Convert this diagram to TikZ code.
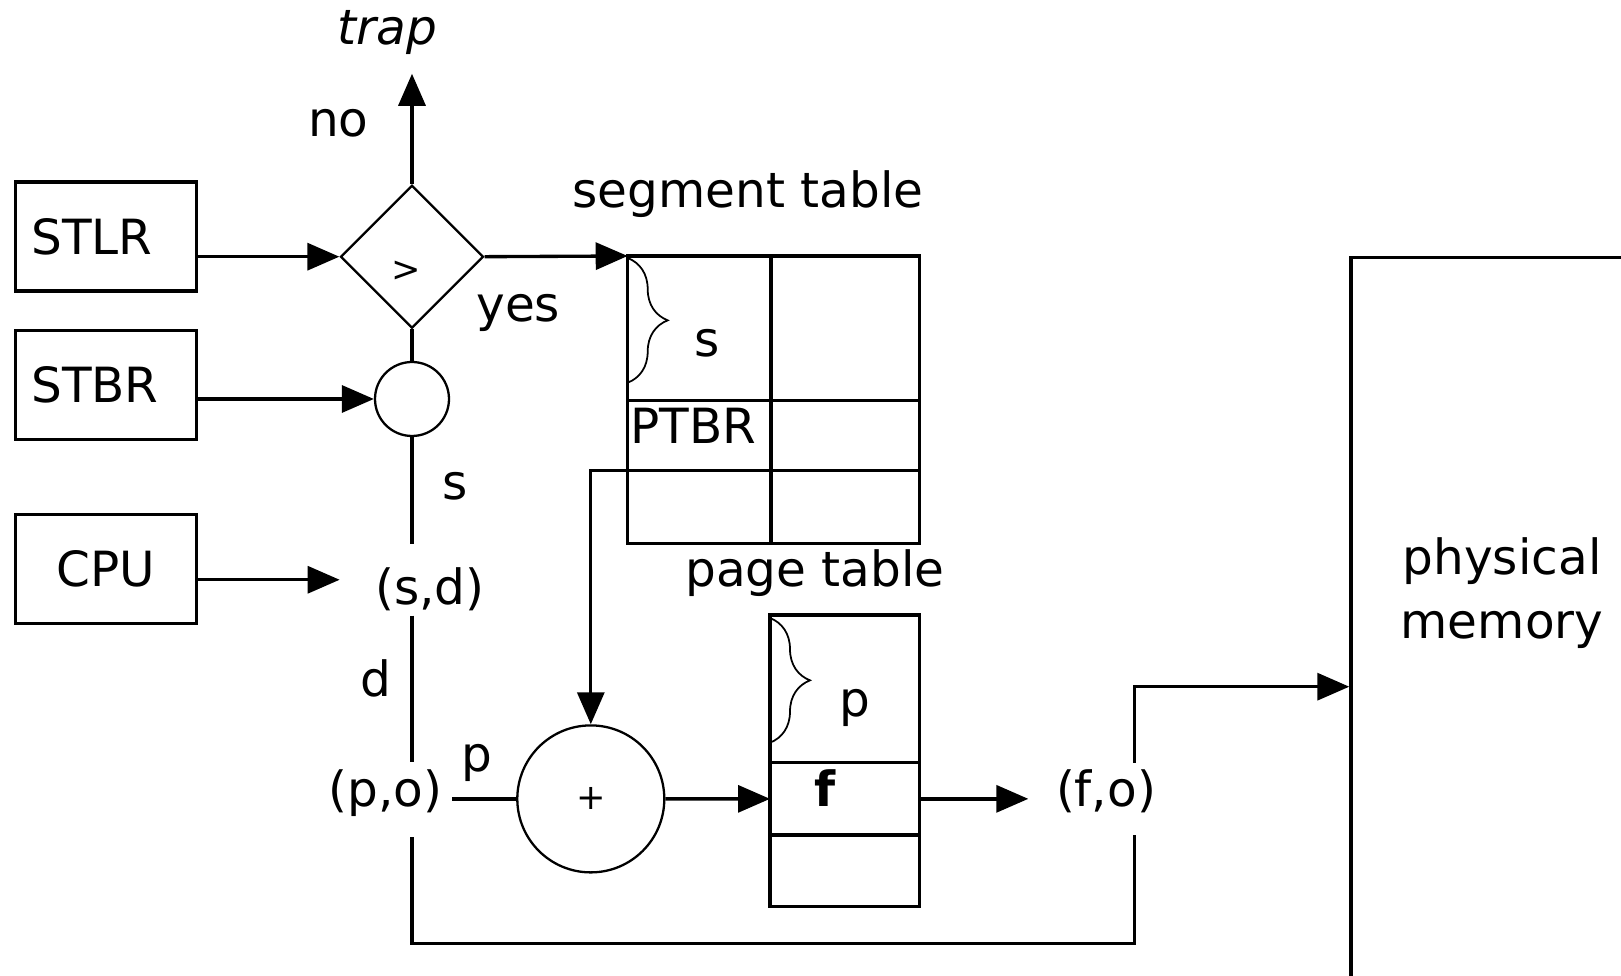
\documentclass[tikz,border=0pt]{standalone}
\usepackage{fontspec}
\setmainfont{DejaVu Sans}
\usetikzlibrary{arrows.meta,positioning,shapes.geometric,decorations.pathreplacing}

\begin{document}
\begin{tikzpicture}[x=0.1mm,y=-0.1mm,font=\fontsize{13.8}{18}\selectfont,
wire/.style={line width=0.95pt},arr/.style={wire,-{Triangle[length=3.2mm,width=2.7mm]}},
regbox/.style={draw,line width=0.95pt,minimum height=10.9mm,text width=15mm,inner xsep=1.55mm,align=left},
cell/.style={draw,line width=0.95pt,inner sep=0pt,outer sep=0pt},
lbl/.style={inner sep=0pt,anchor=base},
curly/.style={decorate,decoration={brace,amplitude=4mm},line width=0.5pt},
small/.style={font=\fontsize{10}{12}\selectfont}]
\useasboundingbox (0,0) rectangle (1621,976);
\clip (0,0) rectangle (1621,976);
% registers
\node[regbox] (stlr) at (106.2,236.5) {STLR};
\node[regbox,below=3.6mm of stlr] (stbr) {STBR};
\node[regbox,below=7.2mm of stbr,align=center] (cpu) {CPU};
% compare and adders
\node[draw,diamond,line width=0.65pt,minimum width=14.3mm,minimum height=14.3mm,inner sep=0pt] (cmp) at (412,256.7) {};
\node[small] (gt) at (406,271.7) {>};
\node[draw,circle,line width=0.65pt,minimum size=7.4mm,inner sep=0pt] (sadd) at (412,399) {};
\node[draw,circle,line width=0.65pt,minimum size=14.7mm,inner sep=0pt,small] (padd) at (590.8,798.9) {+};
% segment table
\node[cell,anchor=north west,minimum width=14.33mm,minimum height=14.47mm] (seg11) at (627.7,256) {};
\node[cell,right=0pt of seg11,minimum width=14.83mm,minimum height=14.47mm] (seg12) {};
\node[cell,below=0pt of seg11,minimum width=14.33mm,minimum height=7mm] (seg21) {};
\node[cell,right=0pt of seg21,minimum width=14.83mm,minimum height=7mm] (seg22) {};
\node[cell,below=0pt of seg21,minimum width=14.33mm,minimum height=7.26mm] (seg31) {};
\node[cell,right=0pt of seg31,minimum width=14.83mm,minimum height=7.26mm] (seg32) {};
\draw[curly] ([yshift=-0.2mm]seg11.north west) -- ([yshift=1.8mm]seg11.south west);
% page table
\node[cell,anchor=north west,minimum width=14.93mm,minimum height=14.77mm] (pg1) at (770,615) {};
\node[cell,below=0pt of pg1,minimum width=14.93mm,minimum height=7.23mm] (pg2) {};
\node[cell,below=0pt of pg2,minimum width=14.93mm,minimum height=7.17mm] (pg3) {};
\draw[curly] ([yshift=-0.3mm]pg1.north west) -- ([yshift=2mm]pg1.south west);
% memory
\node[draw,line width=0.95pt,anchor=north west,minimum width=40mm,minimum height=100mm,inner sep=0pt] (mem) at (1349.3,256) {};
\node[align=center] (memtxt) at (1502,593) {physical\\memory};
% labels
\node[lbl] (trap) at (387.5,45) {\textit{trap}};
\node[lbl] (no) at (338.3,136.7) {no};
\node[lbl] (yes) at (518.3,321.7) {yes};
\node[lbl] (slbl) at (455,500) {s};
\node[lbl] (sd) at (430,605) {(s,d)};
\node[lbl] (dlbl) at (376,696.7) {d};
\node[lbl] (po) at (385.6,806.7) {(p,o)};
\node[lbl] (plbl) at (476.7,771.7) {p};
\node[lbl] (segname) at (748,208) {segment table};
\node[lbl] (sent) at (706.7,356.7) {s};
\node[lbl,anchor=base west] (ptbr) at (630,444) {PTBR};
\node[lbl] (pgname) at (815,587) {page table};
\node[lbl] (pent) at (855,716.7) {p};
\node[lbl] (fent) at (825,806.7) {\textbf{f}};
\node[lbl] (fo) at (1106,807) {(f,o)};
\coordinate (sdin) at ([yshift=1mm]sd.west);
\coordinate (loop) at (1134.7,943.3);
\coordinate (memin) at (1349.3,686.7);
% connections
\draw[arr] (stlr.east |- cmp.west) -- (cmp.west);
\draw[arr] (stbr.east |- sadd.west) -- (sadd.west);
\draw[arr,shorten >=3.5mm] (cpu.east |- sdin) -- (sdin);
\draw[arr,shorten >=1.8mm] (cmp.north) -- (cmp.north |- trap.south);
\draw[arr] (cmp.east) -- (seg11.north west);
\draw[wire] (cmp.south) -- (sadd.north);
\draw[wire,shorten >=2.3mm] (sadd.south) -- (sadd |- sd.north);
\draw[wire,shorten <=0.35mm,shorten >=0.7mm] (sd.south -| sadd) -- (po.north -| sadd);
\draw[wire,shorten <=0.9mm] (po.east |- padd.west) -- (padd.west);
\draw[arr] (seg31.north west) -| (padd.north);
\draw[arr] (padd.east) -- (pg2.west);
\draw[arr,shorten >=2.7mm] (pg2.east) -- (fo.west |- pg2.east);
\draw[wire,shorten <=2mm,shorten >=2.1mm] (po.south -| sadd) |- (loop) -- (fo.south -| loop);
\draw[arr,shorten <=0.65mm] (fo.north -| loop) |- (memin);
\end{tikzpicture}
\end{document}
